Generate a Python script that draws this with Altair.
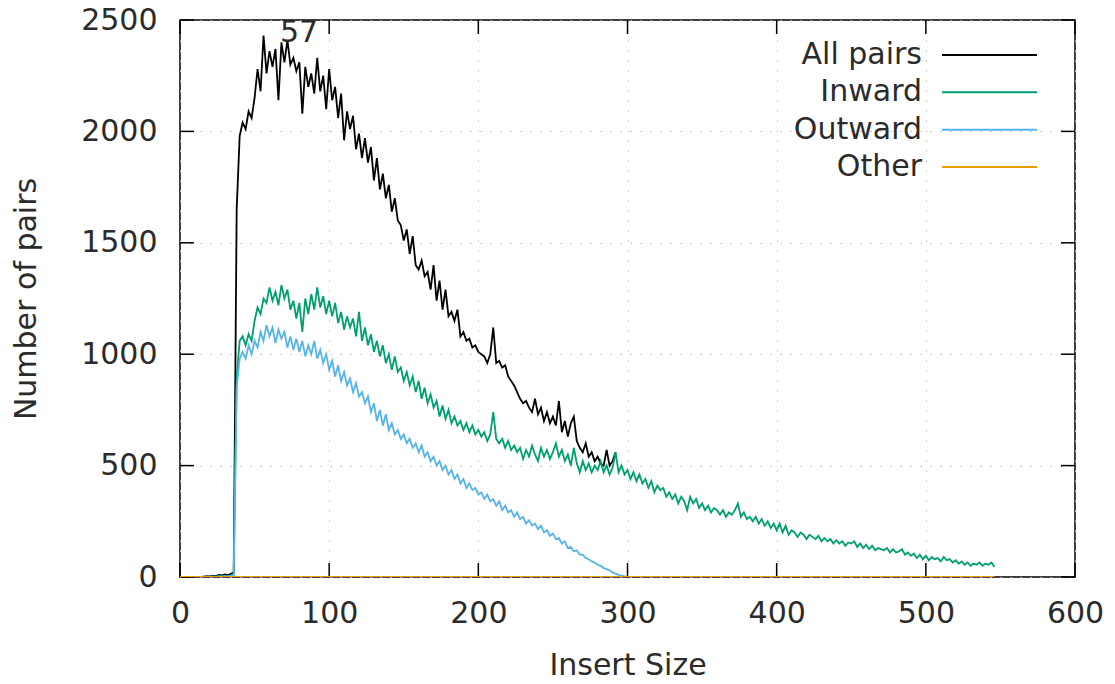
import altair as alt
import pandas as pd

series_names = ["All pairs", "Inward", "Outward", "Other"]
series_colors = ["#000000", "#009e73", "#56b4e9", "#e69f00"]

all_pairs = [
    0, 0, 0, 0, 0, 0, 0, 0, 2, 4, 3, 6, 4, 9, 7, 11, 8, 14, 20,
    1650, 1980, 2040, 2010, 2090, 2060, 2150, 2280, 2180, 2430,
    2260, 2360, 2290, 2370, 2140, 2400, 2310, 2410, 2300, 2330,
    2270, 2310, 2080, 2290, 2200, 2260, 2170, 2330, 2180, 2250,
    2100, 2280, 2140, 2200, 2060, 2170, 1960, 2090, 2010, 2070,
    1920, 1990, 1880, 1970, 1860, 1930, 1780, 1880, 1740, 1810,
    1700, 1760, 1640, 1700, 1600, 1580, 1510, 1560, 1450, 1530,
    1400, 1380, 1420, 1350, 1370, 1290, 1400, 1240, 1330, 1200,
    1290, 1170, 1190, 1150, 1200, 1080, 1100, 1060, 1070, 1030,
    1040, 1010, 1000, 990, 960, 1000, 1120, 960, 970, 940,
    950, 900, 880, 860, 830, 800, 780, 790, 760, 740,
    800, 730, 760, 700, 740, 690, 720, 680, 790, 650,
    700, 630, 690, 720, 610, 580, 560, 600, 540, 560,
    520, 540, 510, 500, 570, 500, 520, 560,
]

inward = [
    0, 0, 0, 0, 0, 0, 0, 0, 1, 2, 1, 3, 2, 4, 3, 5, 4, 6, 10,
    900, 1060, 1080, 1040, 1090, 1060, 1150, 1210, 1180, 1250,
    1230, 1300, 1240, 1280, 1220, 1310, 1250, 1290, 1200, 1240,
    1160, 1230, 1100, 1250, 1180, 1270, 1200, 1300, 1210, 1260,
    1180, 1240, 1170, 1230, 1140, 1190, 1110, 1170, 1120, 1160,
    1080, 1190, 1060, 1120, 1040, 1090, 1010, 1060, 990, 1040,
    960, 1000, 930, 990, 920, 940, 880, 920, 860, 900,
    830, 880, 800, 850, 780, 820, 760, 790, 720, 770,
    710, 750, 690, 720, 680, 700, 660, 690, 650, 680,
    640, 660, 630, 650, 610, 640, 740, 620, 600, 620,
    580, 610, 570, 590, 560, 580, 530, 570, 540, 590,
    550, 520, 580, 540, 570, 530, 560, 600, 540, 570,
    520, 550, 500, 580, 510, 470, 520, 480, 510, 470,
    500, 480, 520, 470, 500, 460, 490, 560, 470, 500,
    460, 480, 440, 470, 430, 460, 420, 440, 400, 430,
    380, 410, 390, 400, 360, 380, 350, 370, 330, 360,
    340, 300, 360, 330, 350, 310, 330, 300, 320, 290,
    310, 300, 280, 300, 270, 290, 280, 300, 330, 270,
    290, 260, 270, 250, 270, 240, 260, 230, 250, 220,
    240, 210, 240, 200, 230, 190, 210, 200, 180, 200,
    190, 170, 190, 180, 170, 185, 160, 175, 160, 170,
    150, 165, 150, 160, 140, 155, 150, 160, 135, 150,
    130, 145, 125, 140, 120, 130, 125, 120, 130, 110,
    125, 110, 115, 125, 100, 110, 95, 105, 85, 100,
    80, 95, 75, 90, 80, 85, 70, 90, 75, 80,
    65, 75, 60, 70, 55, 65, 50, 60, 55, 65,
    50, 60, 55, 65, 45,
]

outward = [
    0, 0, 0, 0, 0, 0, 0, 0, 1, 2, 1, 2, 1, 3, 2, 4, 2, 5, 8,
    850, 980, 1010, 980, 1040, 1000, 1060, 1030, 1100, 1060,
    1130, 1080, 1120, 1050, 1110, 1070, 1100, 1030, 1080, 1020,
    1070, 1010, 1060, 990, 1040, 1000, 1060, 980, 1020, 960,
    1000, 930, 970, 900, 950, 880, 920, 860, 890, 830,
    870, 810, 830, 780, 810, 740, 780, 700, 750, 680,
    730, 660, 690, 640, 660, 620, 640, 600, 620, 580,
    600, 560, 590, 540, 560, 520, 540, 500, 520, 480,
    500, 460, 480, 440, 460, 420, 440, 400, 420, 390,
    400, 370, 380, 350, 370, 340, 350, 320, 340, 300,
    320, 290, 300, 270, 290, 260, 270, 240, 255, 230,
    240, 215, 230, 200, 210, 185, 195, 170, 175, 150,
    160, 130, 135, 115, 120, 100, 100, 85, 80, 70,
    65, 55, 50, 40, 35, 30, 20, 15, 10, 6,
    3, 0,
]

other_x = [0, 546]
other = [0, 0]

x_ticks = [0, 100, 200, 300, 400, 500, 600]
y_ticks = [0, 500, 1000, 1500, 2000, 2500]

peak_label = ["57"]
peak_label_x = [67]
peak_label_y = [2440]

# ---------------- layout ----------------
W, H = 895, 557
FONT = "DejaVu Sans"
FS = 30
TXT = "#2b2b2b"
TICK = 14

xs = alt.Scale(domain=[0, 600], nice=False, zero=False)
ys = alt.Scale(domain=[0, 2500], nice=False)
ax_x = alt.Axis(values=x_ticks, title="Insert Size", grid=True, ticks=False, domain=False,
                labelPadding=21, titlePadding=22, format="d", labelFlush=False, labelOverlap=False)
ax_y = alt.Axis(values=y_ticks, title="Number of pairs", grid=True, ticks=False, domain=False,
                labelPadding=23, titlePadding=39, format="d", labelOverlap=False)


def X(field):
    return alt.X(f"{field}:Q", scale=xs, axis=ax_x)


def Y(field):
    return alt.Y(f"{field}:Q", scale=ys, axis=ax_y)


def sdf(ys_, xs_=None):
    if xs_ is None:
        xs_ = list(range(0, 2 * len(ys_), 2))
    return pd.DataFrame({"x": xs_, "y": ys_})


frames = [sdf(all_pairs), sdf(inward), sdf(outward), sdf(other, other_x)]

layers = []
for df, col in zip(frames, series_colors):
    layers.append(
        alt.Chart(df).mark_line(color=col, strokeWidth=1.8, clip=True).encode(x=X("x"), y=Y("y"))
    )

xt = pd.DataFrame({"v": x_ticks})
yt = pd.DataFrame({"v": y_ticks})
tick_layers = [
    alt.Chart(yt).mark_rule(color="black", strokeWidth=1.5).encode(
        y=Y("v"), x=alt.value(0), x2=alt.value(TICK)),
    alt.Chart(yt).mark_rule(color="black", strokeWidth=1.5).encode(
        y=Y("v"), x=alt.value(W - TICK), x2=alt.value(W)),
    alt.Chart(xt).mark_rule(color="black", strokeWidth=1.5).encode(
        x=X("v"), y=alt.value(H - TICK), y2=alt.value(H)),
    alt.Chart(xt).mark_rule(color="black", strokeWidth=1.5).encode(
        x=X("v"), y=alt.value(0), y2=alt.value(TICK)),
]

label_df = pd.DataFrame({"x": peak_label_x, "y": peak_label_y, "t": peak_label})
label_layer = alt.Chart(label_df).mark_text(
    align="left", baseline="middle", font=FONT, fontSize=FS, color=TXT
).encode(x=X("x"), y=Y("y"), text="t:N")

main = alt.layer(*tick_layers, *layers, label_layer)

# gnuplot-style key: text right-aligned, line sample to its right
leg_df = pd.DataFrame({"name": series_names, "row": [0, 1, 2, 3]})
leg_y = alt.Y("row:Q", axis=None, scale=alt.Scale(domain=[0, 3], range=[35, 147]))
leg_text = alt.Chart(leg_df).mark_text(
    align="right", baseline="middle", font=FONT, fontSize=FS, color=TXT
).encode(x=alt.value(742), y=leg_y, text="name:N")
leg_line = alt.Chart(leg_df).mark_rule(strokeWidth=2).encode(
    x=alt.value(762), x2=alt.value(857), y=leg_y,
    color=alt.Color("name:N", scale=alt.Scale(domain=series_names, range=series_colors), legend=None),
)
legend = alt.layer(leg_text, leg_line)

chart = (
    alt.layer(main, legend)
    .resolve_scale(y="independent")
    .properties(
        width=W,
        height=H,
        autosize=alt.AutoSizeParams(type="none"),
        padding={"left": 172, "top": 12, "right": 30, "bottom": 99},
        background="white",
    )
    .configure_axis(
        labelFont=FONT, titleFont=FONT, labelFontSize=FS, titleFontSize=FS,
        labelColor=TXT, titleColor=TXT, titleFontWeight="normal",
        gridColor="#bcbcbc", gridDash=[1.5, 8.5], gridWidth=1, gridOpacity=1,
    )
    .configure_view(stroke="black", strokeWidth=1.5)
)

chart.save("out.html", embed_options={"renderer": "svg", "actions": False})
